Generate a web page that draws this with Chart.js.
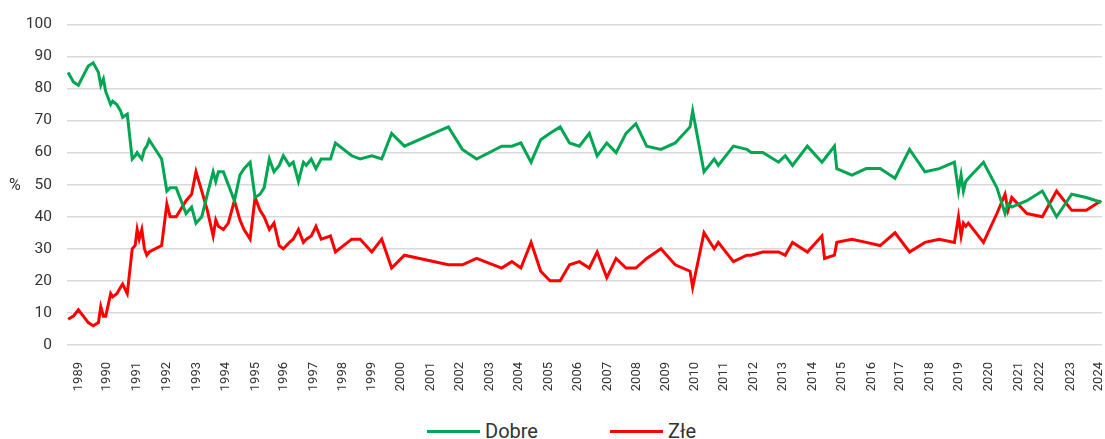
<!DOCTYPE html>
<html>
<head>
<meta charset="utf-8">
<script src="https://cdn.jsdelivr.net/npm/chart.js@4/dist/chart.umd.min.js"></script>
<style>
    body { margin: 0; background: #fff; font-family: Roboto, sans-serif; color: #333; }
    #wrap { position: relative; width: 1105px; height: 439px; }
    #yTitle { position: absolute; left: 9px; top: 175px; font-size: 16px; }
    .legend-item { position: absolute; top: 418px; display: flex; align-items: center; font-size: 20px; height: 26px; }
    .legend-item span.line { display: inline-block; width: 53px; height: 3px; margin-right: 5px; }
</style>
</head>
<body>
<div id="wrap">
    <canvas id="myChart" width="1105" height="400"></canvas>
    <div id="yTitle">%</div>
    <div class="legend-item" style="left:427px"><span class="line" style="background:#00a651"></span>Dobre</div>
    <div class="legend-item" style="left:610px"><span class="line" style="background:#ff0000"></span>Złe</div>
</div>
<script>
// survey dates as fractional years
const dates = [
    1988.66, 1988.84, 1989.01, 1989.18, 1989.35, 1989.52, 1989.70, 1989.78, 1989.87, 1989.95,
    1990.12, 1990.19, 1990.33, 1990.46, 1990.53, 1990.69, 1990.86, 1990.96, 1991.03, 1991.10,
    1991.19, 1991.28, 1991.36, 1991.44, 1991.87, 1992.05, 1992.16, 1992.37, 1992.71, 1992.90,
    1993.05, 1993.25, 1993.44, 1993.64, 1993.73, 1993.82, 1993.99, 1994.16, 1994.37, 1994.56,
    1994.70, 1994.91, 1995.08, 1995.25, 1995.39, 1995.57, 1995.73, 1995.91, 1996.05, 1996.26,
    1996.39, 1996.57, 1996.74, 1996.84, 1997.01, 1997.17, 1997.35, 1997.67, 1997.84, 1998.40,
    1998.69, 1999.09, 1999.43, 1999.77, 2000.21, 2001.72, 2002.20, 2002.69, 2003.55, 2003.90,
    2004.21, 2004.56, 2004.89, 2005.21, 2005.56, 2005.88, 2006.22, 2006.56, 2006.83, 2007.16,
    2007.48, 2007.82, 2008.16, 2008.53, 2009.02, 2009.51, 2010.02, 2010.11, 2010.50, 2010.85,
    2010.99, 2011.51, 2011.97, 2012.12, 2012.52, 2013.06, 2013.29, 2013.54, 2014.05, 2014.55,
    2014.64, 2014.98, 2015.06, 2015.58, 2016.07, 2016.55, 2017.06, 2017.56, 2018.09, 2018.58,
    2019.10, 2019.24, 2019.33, 2019.41, 2019.49, 2019.58, 2020.10, 2020.56, 2020.84, 2020.94,
    2021.07, 2021.59, 2022.12, 2022.61, 2023.13, 2023.63, 2024.14
];

const dobre = [
    85, 82, 81, 84, 87, 88, 85, 81, 83, 79,
    75, 76, 75, 73, 71, 72, 58, 59, 60, 59,
    58, 61, 62, 64, 58, 48, 49, 49, 41, 43,
    38, 40, 47, 54, 51, 54, 54, 50, 45, 53,
    55, 57, 46, 47, 49, 58, 54, 56, 59, 56,
    57, 51, 57, 56, 58, 55, 58, 58, 63, 59,
    58, 59, 58, 66, 62, 68, 61, 58, 62, 62,
    63, 57, 64, 66, 68, 63, 62, 66, 59, 63,
    60, 66, 69, 62, 61, 63, 68, 73, 54, 58,
    56, 62, 61, 60, 60, 57, 59, 56, 62, 57,
    58, 62, 55, 53, 55, 55, 52, 61, 54, 55,
    57, 48, 53, 48, 51, 52, 57, 49, 41, 44,
    43, 45, 48, 40, 47, 46, 44.5
];

const zle = [
    8, 9, 11, 9, 7, 6, 7, 12, 9, 9,
    16, 15, 16, 18, 19, 16, 30, 31, 36, 33,
    36, 30, 28, 29, 31, 44, 40, 40, 45, 47,
    54, 48, 42, 34, 39, 37, 36, 38, 45, 39,
    36, 33, 46, 42, 40, 36, 38, 31, 30, 32,
    33, 36, 32, 33, 34, 37, 33, 34, 29, 33,
    33, 29, 33, 24, 28, 25, 25, 27, 24, 26,
    24, 32, 23, 20, 20, 25, 26, 24, 29, 21,
    27, 24, 24, 27, 30, 25, 23, 18, 35, 30,
    32, 26, 28, 28, 29, 29, 28, 32, 29, 34,
    27, 28, 32, 33, 32, 31, 35, 29, 32, 33,
    32, 40, 34, 38, 37, 38, 32, 41, 47, 42,
    46, 41, 40, 48, 42, 42, 45
];

// x axis tick positions and their labels
const tickYears = [
    1989.01, 1990.00, 1991.03, 1992.04, 1993.08, 1994.07, 1995.10, 1996.08, 1997.09, 1998.09,
    1999.09, 2000.09, 2001.12, 2002.12, 2003.13, 2004.12, 2005.15, 2006.15, 2007.21, 2008.19,
    2009.20, 2010.19, 2011.19, 2012.20, 2013.21, 2014.22, 2015.23, 2016.26, 2017.24, 2018.24,
    2019.26, 2020.29, 2021.30, 2022.04, 2023.08, 2024.07
];
const tickLabels = [
    '1989', '1990', '1991', '1992', '1993', '1994', '1995', '1996', '1997', '1998',
    '1999', '2000', '2001', '2002', '2003', '2004', '2005', '2006', '2007', '2008',
    '2009', '2010', '2011', '2012', '2013', '2014', '2015', '2016', '2017', '2018',
    '2019', '2020', '2021', '2022', '2023', '2024'
];
const yTicks = [0, 10, 20, 30, 40, 50, 60, 70, 80, 90, 100];

function createChart() {
    const ctx = document.getElementById('myChart').getContext('2d');

    const toPoints = values => values.map((v, i) => ({ x: dates[i], y: v }));

    return new Chart(ctx, {
        type: 'line',
        data: {
            datasets: [
                {
                    label: 'Dobre',
                    data: toPoints(dobre),
                    borderColor: '#00a651',
                    backgroundColor: '#00a651',
                    borderWidth: 3,
                    pointRadius: 0,
                    fill: false,
                    tension: 0
                },
                {
                    label: 'Złe',
                    data: toPoints(zle),
                    borderColor: '#ff0000',
                    backgroundColor: '#ff0000',
                    borderWidth: 3,
                    pointRadius: 0,
                    fill: false,
                    tension: 0
                }
            ]
        },
        options: {
            responsive: false,
            animation: false,
            layout: { padding: { top: 22, right: 3, left: 0, bottom: 0 } },
            plugins: {
                legend: { display: false },
                tooltip: { enabled: false }
            },
            scales: {
                x: {
                    type: 'linear',
                    min: 1988.62,
                    max: 2024.17,
                    grid: { display: false },
                    border: { display: false },
                    afterBuildTicks: scale => {
                        scale.ticks = tickYears.map(v => ({ value: v }));
                    },
                    afterFit: scale => {
                        // rotated labels stay inside the plot, no side padding needed
                        scale.height = 55;
                        scale.paddingLeft = 0;
                        scale.paddingRight = 0;
                    },
                    ticks: {
                        autoSkip: false,
                        maxRotation: 90,
                        minRotation: 90,
                        padding: 9,
                        color: '#333',
                        font: { family: 'Roboto', size: 13 },
                        callback: (v, i) => tickLabels[i]
                    }
                },
                y: {
                    min: 0,
                    max: 100,
                    grid: { color: '#d9d9d9', lineWidth: 1.5, drawTicks: false },
                    border: { display: false },
                    afterBuildTicks: scale => {
                        scale.ticks = yTicks.map(v => ({ value: v }));
                    },
                    afterFit: scale => { scale.width = 67; },
                    ticks: {
                        padding: 15,
                        color: '#333',
                        font: { family: 'Roboto', size: 15.5 }
                    }
                }
            }
        }
    });
}

document.addEventListener('DOMContentLoaded', createChart);
</script>
</body>
</html>
